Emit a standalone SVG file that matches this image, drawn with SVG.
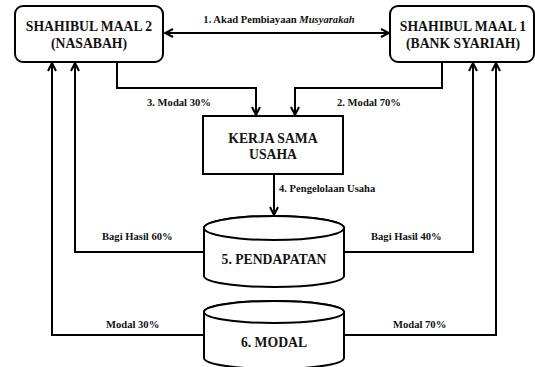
<svg xmlns="http://www.w3.org/2000/svg" width="535" height="367" viewBox="0 0 535 367">
<defs>
<marker id="ah" viewBox="0 0 10 10" refX="9" refY="5" markerWidth="10" markerHeight="10" markerUnits="userSpaceOnUse" orient="auto-start-reverse">
<path d="M1,1 L9,5 L1,9" fill="none" stroke="#000" stroke-width="2"/>
</marker>
<style>
.box{fill:#fff;stroke:#000;stroke-width:2}
.nt{font-family:"Liberation Serif","Times New Roman",serif;font-weight:bold;font-size:13.7px;text-anchor:middle;fill:#111}
.lb{font-family:"Liberation Serif","Times New Roman",serif;font-weight:bold;font-size:10.6px;fill:#111}
.cn{fill:none;stroke:#000;stroke-width:2}
</style>
</defs>
<rect width="535" height="367" fill="#fff"/>
<g id="connectors">
<line class="cn" x1="165" y1="33" x2="389" y2="33" marker-start="url(#ah)" marker-end="url(#ah)"/>
<text class="lb" x="279" y="23" text-anchor="middle">1. Akad Pembiayaan <tspan font-style="italic">Musyarakah</tspan></text>
<polyline class="cn" points="117,62 117,88 256,88 256,115" marker-end="url(#ah)"/>
<text class="lb" x="147" y="106">3. Modal 30%</text>
<polyline class="cn" points="442,62 442,88 295,88 295,115" marker-end="url(#ah)"/>
<text class="lb" x="337" y="106">2. Modal 70%</text>
<line class="cn" x1="274" y1="174" x2="274" y2="215" marker-end="url(#ah)"/>
<text class="lb" x="279" y="192">4. Pengelolaan Usaha</text>
<polyline class="cn" points="204,252 75,252 75,63" marker-end="url(#ah)"/>
<text class="lb" x="102" y="240">Bagi Hasil 60%</text>
<polyline class="cn" points="204,335 52,335 52,63" marker-end="url(#ah)"/>
<text class="lb" x="106" y="328">Modal 30%</text>
<polyline class="cn" points="344,252 473,252 473,63" marker-end="url(#ah)"/>
<text class="lb" x="371" y="240">Bagi Hasil 40%</text>
<polyline class="cn" points="344,335 496,335 496,63" marker-end="url(#ah)"/>
<text class="lb" x="393" y="328">Modal 70%</text>
</g>
<g id="shahibul2">
<rect class="box" x="15" y="6" width="148" height="56" rx="8"/>
<text class="nt" x="89" y="31">SHAHIBUL MAAL 2</text>
<text class="nt" x="89" y="48">(NASABAH)</text>
</g>
<g id="shahibul1">
<rect class="box" x="390" y="6" width="144" height="56" rx="8"/>
<text class="nt" x="463" y="31">SHAHIBUL MAAL 1</text>
<text class="nt" x="463" y="48">(BANK SYARIAH)</text>
</g>
<g id="kerjasama">
<rect class="box" x="203" y="116" width="140" height="58"/>
<text class="nt" x="273" y="143">KERJA SAMA</text>
<text class="nt" x="273" y="159">USAHA</text>
</g>
<g id="pendapatan">
<path class="box" d="M204,228 L204,276 A70,11 0 0 0 344,276 L344,228 A70,12 0 0 0 204,228 Z"/>
<ellipse class="box" cx="274" cy="228" rx="70" ry="12"/>
<text class="nt" x="274" y="264">5. PENDAPATAN</text>
</g>
<g id="modal">
<path class="box" d="M204,312 L204,358 A70,11 0 0 0 344,358 L344,312 A70,11 0 0 0 204,312 Z"/>
<ellipse class="box" cx="274" cy="312" rx="70" ry="11"/>
<text class="nt" x="274" y="347">6. MODAL</text>
</g>
</svg>
